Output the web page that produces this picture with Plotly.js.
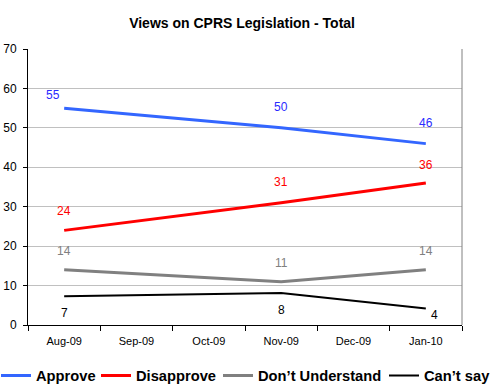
<!DOCTYPE html>
<html><head><meta charset="utf-8">
<script src="https://cdn.plot.ly/plotly-3.0.1.min.js"></script>
<style>html,body{margin:0;padding:0;background:#fff}#c{width:491px;height:389px}</style>
</head><body><div id="c"></div>
<script>
var months = ['Aug-09','Sep-09','Oct-09','Nov-09','Dec-09','Jan-10'];
var approve = [55, null, null, 50, null, 46];
var disapprove = [24, null, null, 31, null, 36];
var dontUnderstand = [14, null, null, 11, null, 14];
var cantSay = [7.3, null, null, 8.1, null, 4.2];
var approveLabels = ['55', null, null, '50', null, '46'];
var disapproveLabels = ['24', null, null, '31', null, '36'];
var dontUnderstandLabels = ['14', null, null, '11', null, '14'];
var cantSayLabels = ['7', null, null, '8', null, '4'];
var yTicks = [0,10,20,30,40,50,60,70];

var F = 'Liberation Sans, Arial, sans-serif';
var legendFont = {family:F, size:14.7, color:'#000', weight:'bold'};
function tr(name, y, color, width, leg){
  return {x: months, y: y, name: name, type:'scatter', mode:'lines', connectgaps:true,
    line:{color:color, width:width}, hoverinfo:'skip', legend: leg};
}
var data = [
  tr('Approve', approve, '#3366ff', 3, 'legend'),
  tr('Disapprove', disapprove, '#ff0000', 3, 'legend2'),
  tr('Don\u2019t Understand', dontUnderstand, '#808080', 3, 'legend3'),
  tr('Can\u2019t say', cantSay, '#000000', 2, 'legend4')
];
var ann = [];
function addLabels(vals, labels, color, shifts){
  for (var i=0;i<vals.length;i++){
    if (labels[i]==null) continue;
    var s = shifts[i] || [0,19];
    ann.push({x: months[i], y: vals[i], xref:'x', yref:'y', text: labels[i], showarrow:false,
      xshift: s[0], yshift: s[1], font:{family:F, size:12, color:color}});
  }
}
addLabels(approve, approveLabels, '#2a2aff', {0:[-11,13],3:[0,21],5:[0,21]});
addLabels(disapprove, disapproveLabels, '#ff0000', {0:[0,19],3:[0,21],5:[0,18]});
addLabels(dontUnderstand, dontUnderstandLabels, '#808080', {0:[0,19],3:[0,19],5:[0,19]});
addLabels(cantSay, cantSayLabels, '#000000', {0:[0,-17],3:[0,-17],5:[9,-7]});

function leg(px){
  return {orientation:'h', x:(px-28)/434, xanchor:'left', y:(325-376)/276, yanchor:'middle',
    font:legendFont, itemwidth:30, bgcolor:'rgba(0,0,0,0)', borderwidth:0};
}
var layout = {
  width:491, height:389,
  margin:{l:28, r:29, t:49, b:64, autoexpand:false},
  paper_bgcolor:'#fff', plot_bgcolor:'#fff',
  title:{text:'<b>Views on CPRS Legislation - Total</b>', font:{family:F, size:14, color:'#000'}, x:0.493, xanchor:'center', y:0.94, yanchor:'middle'},
  showlegend:true,
  legend: leg(-4), legend2: leg(96), legend3: leg(218), legend4: leg(384),
  xaxis:{type:'category', categoryorder:'array', categoryarray: months, range:[-0.5,5.5],
    showgrid:false, showline:true, linecolor:'#000', linewidth:1, ticks:'outside', tickson:'boundaries',
    ticklen:5, tickcolor:'#000', ticklabelstandoff:6, tickfont:{family:F, size:11, color:'#000'}, fixedrange:true},
  yaxis:{range:[0,70], tickvals:yTicks, ticktext: yTicks.map(String), showgrid:true, gridcolor:'#c0c0c0', gridwidth:1,
    showline:true, linecolor:'#000', linewidth:1, ticks:'outside', ticklen:4, tickcolor:'#000', ticklabelstandoff:4,
    tickfont:{family:F, size:12, color:'#000'}, zeroline:false, fixedrange:true},
  shapes:[{type:'line', xref:'paper', yref:'paper', x0:1, x1:1, y0:0, y1:1, line:{color:'#808080', width:1}}],
  annotations: ann
};
Plotly.newPlot('c', data, layout, {displayModeBar:false, staticPlot:true});
</script></body></html>
